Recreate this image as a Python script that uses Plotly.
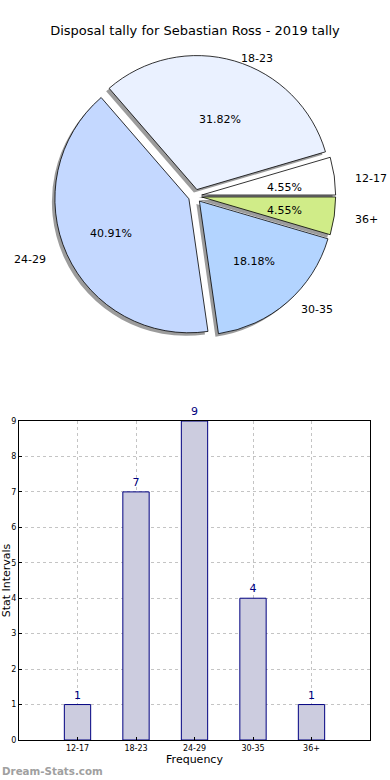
import math
import plotly.graph_objects as go

categories = ["12-17", "18-23", "24-29", "30-35", "36+"]
counts = [1, 7, 9, 4, 1]
pie_colors = ["#ffffff", "#eaf1ff", "#c4d8ff", "#b3d4ff", "#d0ec88"]
y_ticks = list(range(0, 10))

FONT = "DejaVu Sans"
W, H = 390, 780
L, R, T, B = 19, 20, 40, 40
PW, PH = W - L - R, H - T - B

def fx(X):
    return (X - L) / PW

def fy(Y):
    return 1 - (Y - T) / PH

# pie geometry (pixels)
CX, CY = 195, 196
RAD = 134
TX, TY = 194, 199      # text placement centre
RX, RY = 140, 127      # text placement radii
EXPLODE = 0.05
pull = [EXPLODE] * len(counts)
half = RAD * (1 + EXPLODE)
dom_x = [fx(CX - half), fx(CX + half)]
dom_y = [fy(CY + half), fy(CY - half)]
SH = 3
shadow_x = [fx(CX - half - SH), fx(CX + half - SH)]
shadow_y = [fy(CY + half + SH), fy(CY - half + SH)]

total = sum(counts)
# first slice starts at 3 o'clock, going counterclockwise
rotation = 90 - 360.0 * counts[0] / total

fig = go.Figure()

common = dict(labels=categories, values=counts, sort=False,
              direction="counterclockwise", rotation=rotation, pull=pull,
              showlegend=False, textinfo="none")

fig.add_trace(go.Pie(
    domain=dict(x=shadow_x, y=shadow_y),
    marker=dict(colors=["rgba(90,90,90,0.6)"] * len(counts), line=dict(width=0)),
    hoverinfo="skip", **common))
fig.add_trace(go.Pie(
    domain=dict(x=dom_x, y=dom_y),
    marker=dict(colors=pie_colors, line=dict(color="#000000", width=0.8)),
    **common))

# label / percentage texts placed from the data's slice angles
annotations = []
start = 0.0
for cat, v in zip(categories, counts):
    span = 360.0 * v / total
    mid = math.radians(start + span / 2)
    start += span
    c, s = math.cos(mid), math.sin(mid)
    lx = TX + (EXPLODE + 1.1) * RX * c
    ly = TY - (EXPLODE + 1.1) * RY * s
    annotations.append(dict(
        text=cat, xref="paper", yref="paper", x=fx(lx), y=fy(ly),
        xanchor="left" if c > 0 else "right", yanchor="middle",
        showarrow=False, font=dict(family=FONT, size=11, color="#000000")))
    px_ = TX + (EXPLODE + 0.6) * RX * c
    py_ = TY - (EXPLODE + 0.6) * RY * s
    annotations.append(dict(
        text=f"{100 * v / total:.2f}%", xref="paper", yref="paper",
        x=fx(px_), y=fy(py_), xanchor="center", yanchor="middle",
        showarrow=False, font=dict(family=FONT, size=11, color="#000000")))

annotations.append(dict(
    text="<b>Dream-Stats.com</b>", xref="paper", yref="paper",
    x=fx(0), y=fy(771), xanchor="left", yanchor="middle", showarrow=False,
    font=dict(family=FONT, size=10.3, color="#a0a0a0")))

fig.add_trace(go.Bar(
    x=categories, y=counts, width=0.45,
    marker=dict(color="#ccccdf", line=dict(color="#000080", width=1)),
    text=[str(c) for c in counts], textposition="outside",
    textfont=dict(family=FONT, size=11, color="#000080"),
    cliponaxis=False, showlegend=False, hoverinfo="x+y",
))

axis_common = dict(
    showline=True, linecolor="#000000", linewidth=1, mirror=True,
    showgrid=True, gridcolor="#c4c4c4", griddash="dot", gridwidth=1,
    ticks="inside", ticklen=3, tickcolor="#000000",
    tickfont=dict(family=FONT, size=8, color="#000000"),
    zeroline=False, fixedrange=True, automargin=False,
)

fig.update_layout(
    width=W, height=H,
    margin=dict(l=L, r=R, t=T, b=B),
    paper_bgcolor="white", plot_bgcolor="white",
    font=dict(family=FONT, size=11, color="#000000"),
    title=dict(text="Disposal tally for Sebastian Ross - 2019 tally",
               x=0.5, xanchor="center", y=1 - 30 / H, yanchor="middle",
               font=dict(family=FONT, size=13, color="#000000")),
    xaxis=dict(domain=[0, 1], range=[-1, 5], type="category",
               title=dict(text="Frequency", font=dict(family=FONT, size=11), standoff=2),
               **axis_common),
    yaxis=dict(domain=[0, (740 - 421) / PH], range=[0, 9], tickvals=y_ticks,
               title=dict(text="Stat Intervals", font=dict(family=FONT, size=11), standoff=0),
               **axis_common),
    annotations=annotations,
)

fig.write_html("out.html", config={"displayModeBar": False},
               post_script="document.body.style.margin='0px';")
